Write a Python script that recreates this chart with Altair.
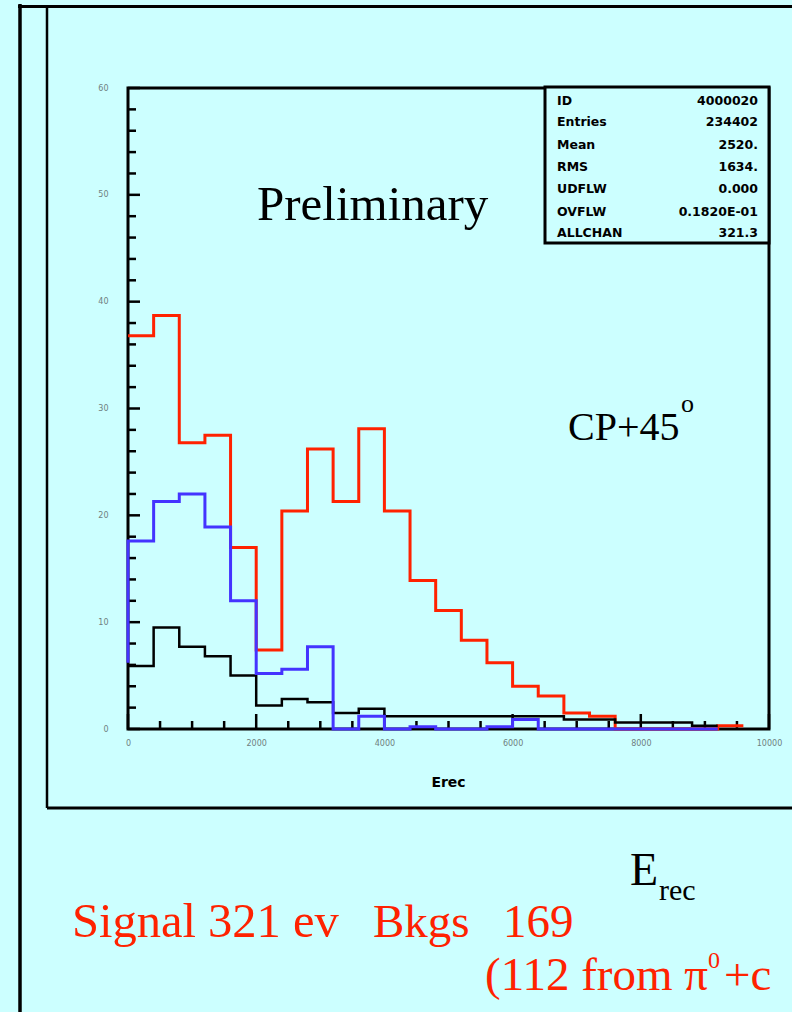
import altair as alt
import pandas as pd

BG = "#ccffff"
RED = "#ff2200"
BLUE = "#4433ff"
BLACK = "#000000"

# ---- data ----
bin_width = 400
signal_red = [36.8, 38.7, 26.8, 27.5, 17.0, 7.4, 20.4, 26.2, 21.3, 28.1, 20.4, 13.9,
              11.1, 8.3, 6.2, 4.0, 3.1, 1.5, 1.2, 0.0, 0.0, 0.0, 0.0, 0.3]
bkg_blue = [17.6, 21.3, 22.0, 18.9, 12.0, 5.2, 5.6, 7.7, 0.0, 1.2, 0.0, 0.2,
            0.0, 0.0, 0.2, 0.9, 0.0, 0.0, 0.0, 0.0, 0.0, 0.0, 0.0]
bkg_blue_start = 6.2
bkg_black = [5.9, 9.5, 7.7, 6.8, 5.0, 2.2, 2.8, 2.5, 1.5, 1.9, 1.2, 1.2,
             1.2, 1.2, 1.2, 1.2, 1.2, 0.9, 0.9, 0.6, 0.6, 0.6, 0.3]

x_labels = [0, 2000, 4000, 6000, 8000, 10000]
y_labels = [0, 10, 20, 30, 40, 50, 60]
x_minor = list(range(0, 10001, 500))
y_minor = list(range(0, 61, 2))

stat_names = ["ID", "Entries", "Mean", "RMS", "UDFLW", "OVFLW", "ALLCHAN"]
stat_values = ["4000020", "234402", "2520.", "1634.", "0.000", "0.1820E-01", "321.3"]

W, H = 641, 641
xs = alt.Scale(domain=[0, 10000], nice=False, zero=False)
ys = alt.Scale(domain=[0, 60], nice=False, zero=False)

AX_X = alt.Axis(values=x_labels, ticks=False, domain=False, grid=False, title=None,
                labelFontSize=8, labelColor="#6f8080", labelPadding=10, format="d",
                labelFlush=False, labelFont="DejaVu Sans", labelOverlap=False)
AX_Y = alt.Axis(values=y_labels, ticks=False, domain=False, grid=False, title=None,
                labelFontSize=8, labelColor="#6f8080", labelPadding=20, format="d",
                labelFont="DejaVu Sans", labelOverlap=False)


def step_frame(values, start=None):
    rows = []
    i = 0
    if start is not None:
        rows.append({"x": 0, "v": start, "i": i})
        i += 1
    for k, v in enumerate(values):
        rows.append({"x": k * bin_width, "v": v, "i": i})
        i += 1
    rows.append({"x": len(values) * bin_width, "v": values[-1], "i": i})
    return pd.DataFrame(rows)


def hist(values, color, width, start=None):
    return alt.Chart(step_frame(values, start)).mark_line(
        interpolate="step-after", color=color, strokeWidth=width
    ).encode(x=alt.X("x:Q", scale=xs, axis=AX_X),
             y=alt.Y("v:Q", scale=ys, axis=AX_Y),
             order=alt.Order("i:Q"))


def rule(x, x2, y, y2, w):
    return alt.Chart(pd.DataFrame({"a": [0]})).mark_rule(
        color="black", strokeWidth=w
    ).encode(x=alt.value(x), x2=alt.value(x2), y=alt.value(y), y2=alt.value(y2))


def text(t, x, y, size, color="black", font="Liberation Serif", weight="normal",
         align="left", baseline="alphabetic"):
    return alt.Chart(pd.DataFrame({"t": [t]})).mark_text(
        fontSize=size, color=color, font=font, fontWeight=weight,
        align=align, baseline=baseline
    ).encode(text="t:N", x=alt.value(x), y=alt.value(y))


# ticks inside the frame
y_major_df = pd.DataFrame({"v": y_labels})
y_minor_df = pd.DataFrame({"v": [v for v in y_minor if v not in y_labels]})
x_major_df = pd.DataFrame({"x": x_labels})
x_minor_df = pd.DataFrame({"x": [v for v in x_minor if v not in x_labels]})

ytick_major = alt.Chart(y_major_df).mark_rule(color="black", strokeWidth=2.5).encode(
    y=alt.Y("v:Q", scale=ys, axis=AX_Y), x=alt.value(0), x2=alt.value(12))
ytick_minor = alt.Chart(y_minor_df).mark_rule(color="black", strokeWidth=2.5).encode(
    y=alt.Y("v:Q", scale=ys, axis=AX_Y), x=alt.value(0), x2=alt.value(8))
xtick_major = alt.Chart(x_major_df).mark_rule(color="black", strokeWidth=2.5).encode(
    x=alt.X("x:Q", scale=xs, axis=AX_X), y=alt.value(H), y2=alt.value(H - 15))
xtick_minor = alt.Chart(x_minor_df).mark_rule(color="black", strokeWidth=2.5).encode(
    x=alt.X("x:Q", scale=xs, axis=AX_X), y=alt.value(H), y2=alt.value(H - 8))

# stats box
stats_box = alt.Chart(pd.DataFrame({"a": [0]})).mark_rect(
    fill=BG, stroke="black", strokeWidth=3
).encode(x=alt.value(417), x2=alt.value(641), y=alt.value(-1), y2=alt.value(155))

stat_y = [17, 38, 61, 83, 105, 128, 149]
stat_layers = []
for n, v, yy in zip(stat_names, stat_values, stat_y):
    stat_layers.append(text(n, 429, yy, 12.5, font="DejaVu Sans", weight="bold"))
    stat_layers.append(text(v, 630, yy, 12.5, font="DejaVu Sans", weight="bold", align="right"))

layers = [
    # slide frame lines
    rule(-108, -108, -84, 924, 3.5),
    rule(-110, 664, -81.5, -81.5, 3),
    rule(-81, -81, -81.5, 720, 2.5),
    rule(-81, 664, 720, 720, 3),
    ytick_major, ytick_minor, xtick_major, xtick_minor,
    stats_box,
    hist(signal_red, RED, 3),
    hist(bkg_black, BLACK, 2.5),
    hist(bkg_blue, BLUE, 3, start=bkg_blue_start),
    text("Preliminary", 129, 132, 49),
    text("CP+45", 440, 352, 40),
    text("o", 553, 324, 26),
    text("Erec", 320.5, 695, 14, font="DejaVu Sans", weight="bold",
         align="center", baseline="middle"),
    text("E", 502, 797, 46),
    text("rec", 531, 812, 30),
    text("Signal 321 ev", -56, 849, 48.5, color=RED),
    text("Bkgs", 245, 849, 47, color=RED),
    text("169", 375, 849, 47, color=RED),
    text("(112 from π", 357, 902, 47, color=RED),
    text("0", 580, 880, 24, color=RED),
    text("+c", 596, 902, 47, color=RED),
] + stat_layers

chart = alt.layer(*layers).properties(
    width=W, height=H,
    autosize=alt.AutoSizeParams(type="none"),
    padding={"left": 128, "top": 88, "right": 23, "bottom": 283},
).configure(background=BG).configure_view(stroke="black", strokeWidth=3)

chart.save("out.html", embed_options={"renderer": "svg", "actions": False})
